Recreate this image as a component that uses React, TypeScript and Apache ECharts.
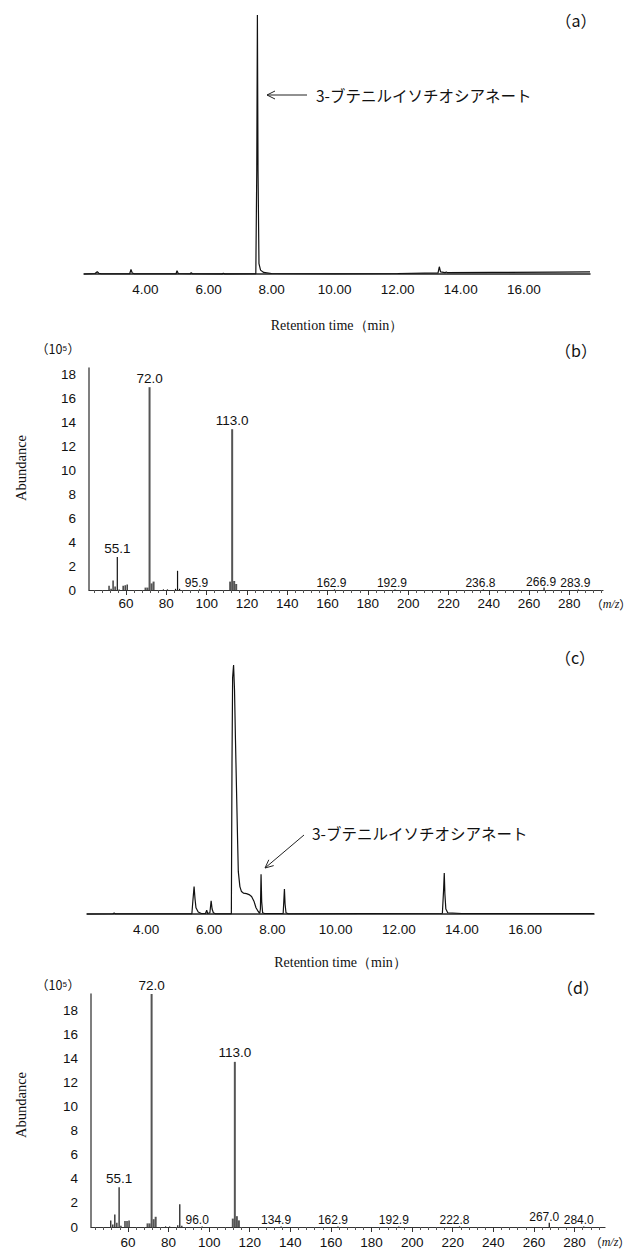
import React, { useEffect, useRef } from "react";
import * as echarts from "echarts";

// ---------- (a) chromatogram : retention time (min) vs relative signal ----------
const aTime = [2.05, 2.4, 2.47, 2.52, 2.6, 3.5, 3.54, 3.58, 3.65, 4.97, 5.0, 5.04, 5.42, 5.45, 5.49, 6.43, 6.47, 6.52, 7.5, 7.53, 7.55, 7.57, 7.6, 7.65, 7.75, 8.0, 10.0, 12.0, 13.28, 13.32, 13.36, 13.5, 13.54, 13.58, 15.0, 17.0, 18.1];
const aSignal = [0, 0.2, 0.9, 0.3, 0.1, 0.1, 1.8, 0.4, 0.1, 0.1, 1.3, 0.2, 0.1, 0.5, 0.1, 0.05, 0.3, 0.05, 0.1, 40, 100, 40, 4, 1.5, 0.6, 0.2, 0.1, 0.2, 0.4, 2.8, 0.8, 0.5, 0.8, 0.5, 0.6, 0.7, 0.8];

// ---------- (c) chromatogram ----------
const cTime = [2.13, 2.95, 2.99, 3.03, 5.45, 5.48, 5.52, 5.55, 5.58, 5.65, 5.75, 5.88, 5.92, 5.95, 6.02, 6.06, 6.09, 6.13, 6.2, 6.7, 6.72, 6.74, 6.77, 6.8, 6.83, 6.87, 6.9, 6.92, 6.97, 7.02, 7.08, 7.18, 7.26, 7.34, 7.42, 7.48, 7.55, 7.6, 7.62, 7.64, 7.66, 7.69, 7.75, 8.34, 8.36, 8.38, 8.4, 8.43, 8.5, 13.38, 13.42, 13.44, 13.46, 13.49, 13.55, 14.0, 18.18];
const cSignal = [0, 0.1, 0.4, 0.1, 0.1, 5, 11, 6, 2.5, 0.8, 0.2, 0.2, 1.5, 0.2, 0.5, 5.3, 2, 0.5, 0.1, 0.1, 60, 95, 100, 90, 70, 46, 28, 17, 11, 9, 8.4, 8.2, 7.8, 7, 5, 2.5, 1, 0.3, 2, 16, 5, 0.5, 0.2, 0.2, 5, 10, 4, 0.5, 0.1, 0.3, 10, 16.5, 8, 2, 0.5, 0.2, 0.2];

// ---------- (b) mass spectrum : m/z vs abundance (x10^5) ----------
const bMz = [51, 52, 53, 54, 55.1, 56, 58, 59, 60, 70, 71, 72.0, 73, 74, 78, 80, 84, 85, 86, 95.9, 112, 113.0, 114, 115, 162.9, 192.9, 236.8, 266.9, 283.9];
const bAbund = [0.35, 0.1, 0.8, 0.3, 2.75, 0.05, 0.35, 0.4, 0.45, 0.2, 0.2, 16.9, 0.55, 0.7, 0.05, 0.05, 0.1, 1.6, 0.1, 0.05, 0.7, 13.4, 0.75, 0.5, 0.05, 0.05, 0.05, 0.2, 0.05];
const bMajorLabels = [55.1, 72.0, 113.0];
const bMinorLabels = [95.9, 162.9, 192.9, 236.8, 266.9, 283.9];

// ---------- (d) mass spectrum ----------
const dMz = [51, 52, 53, 54, 55.1, 56, 58, 59, 60, 70, 71, 72.0, 73, 74, 78, 80, 84, 85, 86, 96.0, 112, 113.0, 114, 115, 134.9, 162.9, 192.9, 222.8, 267.0, 284.0];
const dAbund = [0.55, 0.2, 1.05, 0.35, 3.3, 0.1, 0.5, 0.5, 0.55, 0.3, 0.3, 19.4, 0.65, 0.85, 0.05, 0.05, 0.15, 1.9, 0.1, 0.05, 0.7, 13.75, 0.9, 0.55, 0.05, 0.05, 0.05, 0.05, 0.35, 0.05];
const dMajorLabels = [55.1, 72.0, 113.0];
const dMinorLabels = [96.0, 134.9, 162.9, 192.9, 222.8, 267.0, 284.0];

const grayMz = [70, 71, 72.0, 73, 74, 112, 113.0, 114, 115];

// ---------- tick labels ----------
const rtTicks = [4, 6, 8, 10, 12, 14, 16];
const mzTicks = [60, 80, 100, 120, 140, 160, 180, 200, 220, 240, 260, 280];
const abTicks = [0, 2, 4, 6, 8, 10, 12, 14, 16, 18];

const compoundName = "3-ブテニルイソチオシアネート";

const SANS = "'Liberation Sans', Arial, sans-serif";
const SERIF = "'Liberation Serif', 'Times New Roman', serif";
const CJK = "'Noto Sans CJK JP', sans-serif";
const TXT = "#111";

function minorTickValues(lo: number, hi: number) {
  const out: number[] = [];
  for (let v = 44; v <= hi; v += 4) {
    if (v >= lo && v % 20 !== 0) out.push(v);
  }
  return out;
}

function spectrumSeries(mz: number[], ab: number[], major: number[], minor: number[], off: number, xi: number, yi: number) {
  const mk = (m: number, a: number) => {
    const d: any = { value: [m, a] };
    if (major.includes(m)) {
      d.label = { show: true, position: "top", distance: 2, fontSize: 13.5, color: TXT, fontFamily: SANS, formatter: m.toFixed(1) };
    } else if (minor.includes(m)) {
      d.label = { show: true, position: "top", distance: 0, offset: [off, 0], fontSize: 12, color: TXT, fontFamily: SANS, formatter: m.toFixed(1) };
    }
    return d;
  };
  const gray: any[] = [];
  const black: any[] = [];
  mz.forEach((m, i) => {
    (grayMz.includes(m) ? gray : black).push(mk(m, ab[i]));
  });
  return [
    { type: "bar", xAxisIndex: xi, yAxisIndex: yi, data: gray, barWidth: 2, itemStyle: { color: "#555" }, silent: true },
    { type: "bar", xAxisIndex: xi, yAxisIndex: yi, data: black, barWidth: 1.2, itemStyle: { color: "#111" }, silent: true },
  ];
}

function rtAxis(grid: number, min: number, max: number, nameGap: number) {
  return {
    type: "value", gridIndex: grid, min, max, position: "bottom",
    axisLine: { show: true, onZero: false, lineStyle: { color: "#222", width: 1.5 } },
    axisTick: { show: false }, splitLine: { show: false },
    axisLabel: { customValues: rtTicks, formatter: (v: number) => v.toFixed(2), fontSize: 13.5, color: TXT, margin: 8, fontFamily: SANS },
    name: "Retention time（min）", nameLocation: "middle", nameGap,
    nameTextStyle: { fontFamily: SERIF, fontSize: 14, color: TXT },
  };
}

function mzAxes(grid: number, min: number, max: number, margin: number) {
  return [
    {
      type: "value", gridIndex: grid, min, max, position: "bottom",
      axisLine: { show: true, onZero: false, lineStyle: { color: "#333", width: 1.2 } },
      axisTick: { show: true, customValues: mzTicks, length: 5, lineStyle: { color: "#333" } },
      splitLine: { show: false },
      axisLabel: { customValues: mzTicks, fontSize: 13.5, color: TXT, margin, fontFamily: SANS },
    },
    {
      type: "value", gridIndex: grid, min, max, position: "bottom",
      axisLine: { show: false },
      axisTick: { show: true, customValues: minorTickValues(min, max), length: 3, lineStyle: { color: "#555" } },
      splitLine: { show: false },
      axisLabel: { show: false },
    },
  ];
}

function abAxis(grid: number, max: number) {
  return {
    type: "value", gridIndex: grid, min: 0, max,
    axisLine: { show: true, lineStyle: { color: "#555", width: 1.5 } },
    axisTick: { show: false }, splitLine: { show: false },
    axisLabel: { customValues: abTicks, fontSize: 13.5, color: TXT, margin: 13, fontFamily: SANS },
  };
}

function text(x: number, y: number, t: string, font: string, size: number, extra: any = {}) {
  return {
    type: "text", x, y, ...extra,
    style: { text: t, fontFamily: font, fontSize: size, fill: TXT, align: "center", verticalAlign: "middle", ...(extra.style || {}) },
  };
}

export default function App() {
  const ref = useRef<HTMLDivElement>(null);
  useEffect(() => {
    if (!ref.current) return;
    const chart = echarts.init(ref.current, null, { renderer: "svg" });
    const aData = aTime.map((t, i) => [t, aSignal[i]]);
    const cData = cTime.map((t, i) => [t, cSignal[i]]);
    const mzB = mzAxes(1, 41.6, 296.7, 6);
    const mzD = mzAxes(3, 41.8, 295, 8);
    const mzName = (x: number, y: number) => ({
      type: "text", x, y,
      style: { text: "（{i|m/z}）", fontFamily: CJK, fontSize: 12, fill: TXT, align: "center", verticalAlign: "middle", rich: { i: { fontFamily: SERIF, fontStyle: "italic", fontSize: 12, fill: TXT } } },
    });
    const option: any = {
      animation: false,
      backgroundColor: "#fff",
      grid: [
        { left: 84, top: 15, width: 506, height: 259 },
        { left: 89, top: 368, width: 514, height: 222 },
        { left: 87, top: 665, width: 507, height: 249 },
        { left: 91, top: 994, width: 514, height: 233 },
      ],
      xAxis: [
        rtAxis(0, 2.05, 18.1, 44),
        mzB[0], mzB[1],
        rtAxis(2, 2.13, 18.18, 41),
        mzD[0], mzD[1],
      ],
      yAxis: [
        { type: "value", gridIndex: 0, min: 0, max: 100, show: false },
        abAxis(1, 18.5),
        { type: "value", gridIndex: 2, min: 0, max: 100, show: false },
        abAxis(3, 19.4),
      ],
      series: [
        { type: "line", xAxisIndex: 0, yAxisIndex: 0, data: aData, symbol: "none", clip: false, lineStyle: { color: "#111", width: 1.2 }, silent: true },
        ...spectrumSeries(bMz, bAbund, bMajorLabels, bMinorLabels, -3, 1, 1),
        { type: "line", xAxisIndex: 3, yAxisIndex: 2, data: cData, symbol: "none", clip: false, lineStyle: { color: "#111", width: 1.2 }, silent: true },
        ...spectrumSeries(dMz, dAbund, dMajorLabels, dMinorLabels, -5, 4, 3),
      ],
      graphic: [
        text(576, 20, "（a）", CJK, 16),
        text(576, 350, "（b）", CJK, 16),
        text(575, 657, "（c）", CJK, 16),
        text(578, 987, "（d）", CJK, 16),
        text(316, 95, compoundName, CJK, 15.5, { style: { align: "left" } }),
        text(312, 833, compoundName, CJK, 15.5, { style: { align: "left" } }),
        { type: "line", shape: { x1: 307, y1: 95, x2: 267, y2: 95 }, style: { stroke: "#222", lineWidth: 1 } },
        { type: "polyline", shape: { points: [[275, 91], [267, 95], [275, 99]] }, style: { stroke: "#222", lineWidth: 1, fill: null } },
        { type: "line", shape: { x1: 304, y1: 835, x2: 265, y2: 868 }, style: { stroke: "#222", lineWidth: 1 } },
        { type: "polyline", shape: { points: [[273.7, 865.6], [265, 868], [268.8, 859.8]] }, style: { stroke: "#222", lineWidth: 1, fill: null } },
        text(58, 348, "（10⁵）", CJK, 12.5),
        text(58, 984, "（10⁵）", CJK, 12.5),
        text(21, 468, "Abundance", SERIF, 14.5, { rotation: Math.PI / 2 }),
        text(21, 1105, "Abundance", SERIF, 14.5, { rotation: Math.PI / 2 }),
        mzName(611, 604),
        mzName(610, 1242),
      ],
    };
    chart.setOption(option);
    return () => chart.dispose();
  }, []);
  return <div ref={ref} style={{ position: "fixed", left: 0, top: 0, width: 636, height: 1256, background: "#fff" }} />;
}
